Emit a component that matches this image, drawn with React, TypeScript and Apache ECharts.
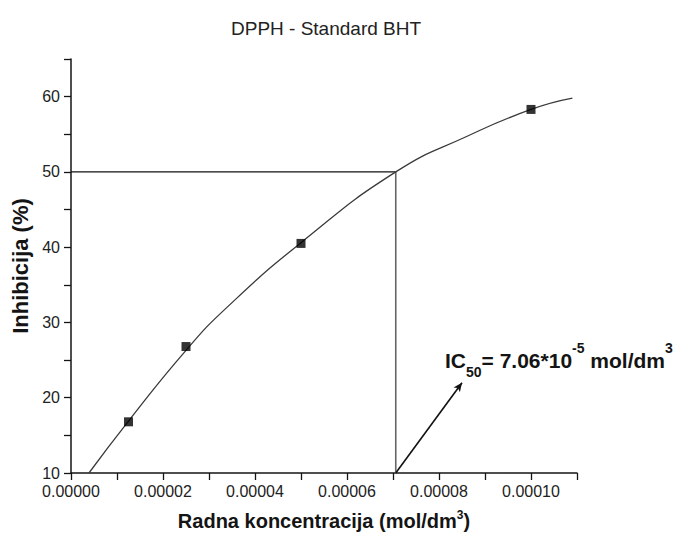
import React, { useEffect, useRef } from "react";
import * as echarts from "echarts";

// Measured samples (BHT working concentration vs. inhibition)
const sampleConc = [0.0000125, 0.000025, 0.00005, 0.0001];
const sampleInhib = [16.8, 26.8, 40.5, 58.3];

// Fitted curve
const fitConc = [0.0000039, 0.0000125, 0.000025, 0.0000339, 0.00005, 0.0000706, 0.000086, 0.0001, 0.000109];
const fitInhib = [10, 16.9, 26.3, 32.0, 40.6, 50, 54.7, 58.3, 59.8];

// IC50 guide and arrow
const ic50Conc = 0.0000706;
const ic50Level = 50;
const yFloor = 10;
const arrowFrom = [0.0000706, 10];
const arrowTo = [0.000085, 22];

// Tick labels
const xTickLabels = ["0.00000", "0.00002", "0.00004", "0.00006", "0.00008", "0.00010"];
const yTickLabels = ["10", "20", "30", "40", "50", "60"];

const FONT = "'Liberation Sans', Arial, Helvetica, sans-serif";
const INK = "#141414";

export default function App() {
  const ref = useRef<HTMLDivElement>(null);

  useEffect(() => {
    if (!ref.current) return;
    const chart = echarts.init(ref.current, undefined, { renderer: "svg" });
    const axisLine = { show: true, lineStyle: { color: INK, width: 1.5 } };
    const axisTick = { show: true, inside: false, length: 7, lineStyle: { color: INK, width: 1.3 } };

    chart.setOption({
      animation: false,
      backgroundColor: "#ffffff",
      textStyle: { fontFamily: FONT },
      title: {
        text: "DPPH - Standard BHT",
        left: 231,
        top: 19,
        padding: 0,
        textStyle: { fontSize: 19, fontWeight: "normal", color: "#222", fontFamily: FONT },
      },
      grid: { left: 71, right: 103, top: 59, bottom: 65 },
      xAxis: {
        type: "value",
        min: 0,
        max: 0.00011,
        interval: 0.00001,
        axisLine,
        axisTick,
        splitLine: { show: false },
        axisLabel: {
          margin: 10,
          fontSize: 16,
          color: "#222",
          fontFamily: FONT,
          formatter: (v: number) => {
            const s = v.toFixed(5);
            return xTickLabels.includes(s) ? s : "";
          },
        },
        name: "{b|Radna koncentracija (mol/dm}{s|3}{b|)}",
        nameLocation: "middle",
        nameGap: 36,
        nameTextStyle: {
          rich: {
            b: { fontSize: 20, fontWeight: "bold", color: INK, fontFamily: FONT, lineHeight: 24 },
            s: { fontSize: 12, fontWeight: "bold", color: INK, fontFamily: FONT, lineHeight: 12, verticalAlign: "top" },
          },
        },
      },
      yAxis: {
        type: "value",
        min: 10,
        max: 65,
        interval: 5,
        axisLine,
        axisTick,
        splitLine: { show: false },
        axisLabel: {
          margin: 11,
          fontSize: 16,
          color: "#222",
          fontFamily: FONT,
          formatter: (v: number) => {
            const s = String(Math.round(v));
            return yTickLabels.includes(s) ? s : "";
          },
        },
        name: "Inhibicija (%)",
        nameLocation: "middle",
        nameGap: 36,
        nameTextStyle: { fontSize: 22, fontWeight: "bold", color: INK, fontFamily: FONT },
      },
      series: [
        {
          name: "fit",
          type: "line",
          data: fitConc.map((x, i) => [x, fitInhib[i]]),
          smooth: 0.5,
          symbol: "none",
          lineStyle: { color: "#3a3a3a", width: 1.3 },
          z: 3,
        },
        {
          name: "ic50-h",
          type: "line",
          data: [
            [0, ic50Level],
            [ic50Conc, ic50Level],
          ],
          symbol: "none",
          lineStyle: { color: "#111", width: 1.1 },
          z: 2,
        },
        {
          name: "ic50-v",
          type: "line",
          data: [
            [ic50Conc, ic50Level],
            [ic50Conc, yFloor],
          ],
          symbol: "none",
          lineStyle: { color: "#666", width: 1.6 },
          z: 2,
          markLine: {
            silent: true,
            symbol: ["none", "arrow"],
            symbolSize: [6, 9],
            lineStyle: { color: "#111", width: 1.6, type: "solid" },
            label: { show: false },
            data: [[{ coord: arrowFrom }, { coord: arrowTo }]],
          },
        },
        {
          name: "samples",
          type: "scatter",
          data: sampleConc.map((x, i) => [x, sampleInhib[i]]),
          symbol: "rect",
          symbolSize: 9,
          itemStyle: { color: "#000" },
          z: 5,
        },
      ],
      graphic: [
        {
          type: "text",
          left: 445,
          top: 341,
          style: {
            text: "{a|IC}{sub|50}{a|= 7.06*10}{sup|-5}{a| mol/dm}{sup|3}",
            fill: INK,
            rich: {
              a: { fontSize: 21, fontWeight: "bold", fontFamily: FONT, fill: INK, lineHeight: 38 },
              sub: { fontSize: 14, fontWeight: "bold", fontFamily: FONT, fill: INK, lineHeight: 14, verticalAlign: "bottom" },
              sup: { fontSize: 14, fontWeight: "bold", fontFamily: FONT, fill: INK, lineHeight: 14, verticalAlign: "top" },
            },
          },
        },
      ],
    });

    return () => chart.dispose();
  }, []);

  return (
    <div
      ref={ref}
      style={{ position: "absolute", left: 0, top: 0, width: 680, height: 538, background: "#fff" }}
    />
  );
}
